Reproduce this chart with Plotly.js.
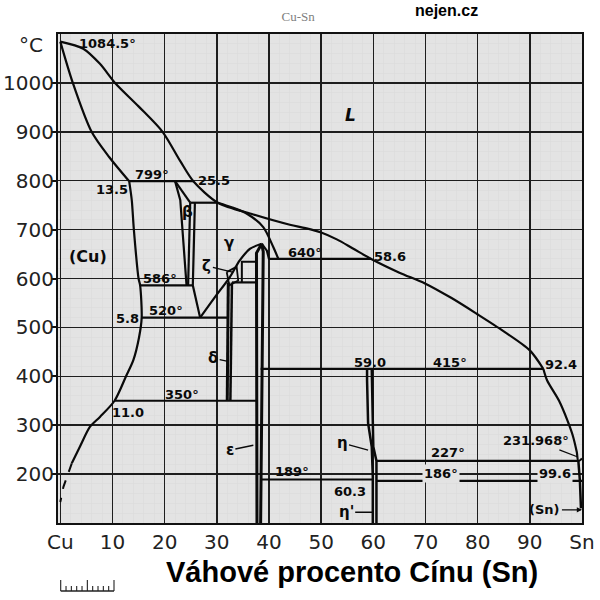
<!DOCTYPE html>
<html><head><meta charset="utf-8">
<script src="https://cdn.plot.ly/plotly-3.0.1.min.js"></script>
<style>html,body{margin:0;padding:0;background:#fff}#chart{width:600px;height:600px}</style>
</head><body><div id="chart"></div>
<script>
// ---------- axes ----------
const xTickVals = [0,10,20,30,40,50,60,70,80,90,100];
const xTickText = ['Cu','10','20','30','40','50','60','70','80','90','Sn'];
const yTickVals = [200,300,400,500,600,700,800,900,1000];

// ---------- phase boundaries (wt% Sn, °C) ----------
const liquidusX = [0, 4.4, 7.6, 10.5, 15, 19.6, 23, 25.5, 30.2, 37, 44, 47, 50, 53, 56, 59.6, 65, 69.9, 75, 79.8, 85, 90, 92.6];
const liquidusT = [1084.5, 1070, 1039, 1000, 952, 900, 840, 799, 755, 731, 710, 703, 694, 680, 662, 640, 612, 590, 560, 528, 492, 453, 415];
const liquidusSnX = [92.6, 93.3, 95.6, 97.2, 98.2, 99.0, 99.3, 100];
const liquidusSnT = [415, 392, 350, 310, 280, 245, 227, 232];
const cuSolidusX = [0, 2.4, 6.0, 9.4, 13.2];
const cuSolidusT = [1084.5, 1000, 900, 848, 799];
const cuSolvusX = [13.2, 13.7, 14.1, 15.0, 15.3, 15.6, 15.1, 14.0, 12.6, 10.4, 7.6, 5.7, 3.8, 2.2];
const cuSolvusT = [799, 760, 700, 600, 586, 520, 480, 433, 400, 350, 317, 297, 257, 222];
const cuSolvusLowX = [2.2, 1.5, 0.6, 0];
const cuSolvusLowT = [222, 202, 174, 143];
const betaLeftX = [22.0, 23.0, 24.2];
const betaLeftT = [799, 760, 586];
const betaSolidusX = [22.0, 24.9];
const betaSolidusT = [799, 755];
const betaRightX = [24.9, 24.5];
const betaRightT = [755, 586];
const gammaLeftX = [25.8, 25.4, 26.8];
const gammaLeftT = [755, 586, 520];
const gammaSolidusX = [30.2, 33, 35.7, 38.9, 40.8, 41.8];
const gammaSolidusT = [755, 745, 733, 705, 665, 640];
const domeX = [26.8, 29.5, 32.5, 34.4, 36.4, 38.6];
const domeT = [520, 560, 603, 637, 661, 671];
const domeRightX = [38.6, 39.6, 40.0];
const domeRightT = [671, 657, 640];
const epsLeftX = [38.6, 37.6, 37.7];
const epsLeftT = [671, 652, 100];
const epsRightX = [38.6, 38.9, 38.4];
const epsRightT = [671, 655, 100];
const deltaLeftX = [32.0, 32.2];
const deltaLeftT = [350, 592];
const deltaRightX = [32.6, 32.9];
const deltaRightT = [350, 592];
const zetaX = [31.9, 33.8, 34.1, 32.4, 31.9];
const zetaT = [613, 624, 596, 586, 613];
const zetaBoxX = [34.8, 34.8, 37.6];
const zetaBoxT = [592, 634, 634];
const etaLeftX = [58.8, 58.8, 59.0, 59.7, 59.9, 59.9];
const etaLeftT = [415, 392, 304, 256, 195, 100];
const etaRightX = [59.7, 60.0, 60.6, 60.6];
const etaRightT = [415, 256, 227, 100];
const snSolvusX = [99.3, 99.6, 99.8];
const snSolvusT = [227, 186, 130];

// isotherms
const isoT    = [799, 755, 640, 592, 586, 520, 415, 350, 227, 189, 186];
const isoFrom = [13.2, 24.9, 39.9, 32.9, 15.3, 15.6, 38.4, 10.4, 60.6, 38.4, 60.6];
const isoTo   = [25.5, 30.2, 59.6, 37.7, 25.4, 32.0, 92.6, 37.7, 99.3, 59.9, 100];

// numeric labels
const labText = ['1084.5°','799°','13.5','25.5','586°','520°','5.8','350°','11.0','640°','58.6','59.0','415°','92.4','189°','60.3','227°'];
const labX    = [9.1, 17.6, 9.9, 29.5, 19.1, 20.3, 12.8, 23.4, 13.0, 46.9, 63.2, 59.4, 74.7, 96.0, 44.4, 55.5, 74.3];
const labT    = [1081, 813, 781, 801, 601, 535, 519, 362, 325, 654, 646, 429, 429, 425, 206, 165, 245];
// labels sitting on a grid line (background cut-out)
const gapText = ['186°','99.6'];
const gapX    = [73.0, 94.8];
const gapT    = [202, 202];
// phase names
const phaseText = ['<i>L</i>','(Cu)','β','γ'];
const phaseX    = [55.7, 5.3, 24.3, 32.3];
const phaseT    = [934, 644, 736, 672];
const phaseSize = [17, 16, 15, 15];
// phase names with leader lines: text position and tip
const leadText = ['ζ','δ','ε','η',"η'",'231.968°','(Sn)'];
const leadX    = [28.1, 29.3, 32.5, 54.0, 54.8, 91.2, 92.9];
const leadT    = [626, 437, 249, 264, 122, 268, 127];
const tipX     = [33.0, 31.9, 37.0, 59.0, 59.9, 99.2, 100];
const tipT     = [613, 431, 259, 249, 122, 235, 127];
const tipHead  = [0, 0, 0, 0, 0, 0, 2];

// ---------- build ----------
const BLACK = '#0a0a0a';
function ln(x, y, w, dash, smooth) {
  const line = {color:BLACK, width:w || 2, dash:dash || 'solid'};
  if (smooth) { line.shape = 'spline'; line.smoothing = 0.8; }
  return {type:'scatter', mode:'lines', x:x, y:y, hoverinfo:'skip', showlegend:false, line:line};
}
const traces = [
  ln(liquidusX, liquidusT, 2.2, null, true),
  ln(liquidusSnX, liquidusSnT, 2.2, null, true),
  ln(cuSolidusX, cuSolidusT, 2.2, null, true),
  ln(cuSolvusX, cuSolvusT, 2.2, null, true),
  ln(cuSolvusLowX, cuSolvusLowT, 2, 'dash'),
  ln(betaLeftX, betaLeftT, 2.2),
  ln(betaSolidusX, betaSolidusT, 2.2),
  ln(betaRightX, betaRightT, 2.2),
  ln(gammaLeftX, gammaLeftT, 2.2),
  ln(gammaSolidusX, gammaSolidusT, 2.2, null, true),
  ln(domeX, domeT, 2.2, null, true),
  ln(domeRightX, domeRightT, 2.2),
  ln(epsLeftX, epsLeftT, 3),
  ln(epsRightX, epsRightT, 3),
  ln(deltaLeftX, deltaLeftT, 3),
  ln(deltaRightX, deltaRightT, 2.5),
  ln(zetaX, zetaT, 1.8),
  ln(zetaBoxX, zetaBoxT, 2),
  ln(etaLeftX, etaLeftT, 2.5),
  ln(etaRightX, etaRightT, 2.5),
  ln(snSolvusX, snSolvusT, 2.5)
];
for (let i = 0; i < isoT.length; i++) {
  traces.push(ln([isoFrom[i], isoTo[i]], [isoT[i], isoT[i]], 2.2));
}

const LABFONT = {family:'DejaVu Sans', size:13, color:BLACK};
const PLOTBG = '#e3e3e3';
const annotations = [];
labText.forEach((t, i) => annotations.push({x:labX[i], y:labT[i], xref:'x', yref:'y', text:'<b>'+t+'</b>',
  showarrow:false, xanchor:'center', yanchor:'middle', font:LABFONT}));
gapText.forEach((t, i) => annotations.push({x:gapX[i], y:gapT[i], xref:'x', yref:'y', text:'<b>'+t+'</b>',
  showarrow:false, xanchor:'center', yanchor:'middle', font:LABFONT, bgcolor:PLOTBG, borderpad:1}));
phaseText.forEach((t, i) => annotations.push({x:phaseX[i], y:phaseT[i], xref:'x', yref:'y', text:'<b>'+t+'</b>',
  showarrow:false, xanchor:'center', yanchor:'middle', font:{family:'DejaVu Sans', size:phaseSize[i], color:BLACK}}));
leadText.forEach((t, i) => annotations.push({x:tipX[i], y:tipT[i], xref:'x', yref:'y',
  ax:leadX[i], ay:leadT[i], axref:'x', ayref:'y', text:'<b>'+t+'</b>', showarrow:true,
  arrowhead:tipHead[i], arrowsize:0.8, arrowwidth:1.3, arrowcolor:BLACK, standoff:0,
  font:{family:'DejaVu Sans', size:(t.length > 3 ? 13 : 15), color:BLACK}}));

// outside texts (paper coordinates of the plot area)
annotations.push({x:-0.052, y:0.977, xref:'paper', yref:'paper', xanchor:'center', yanchor:'middle',
  text:'°C', showarrow:false, font:{family:'DejaVu Sans', size:20, color:'#222'}});
annotations.push({x:0.742, y:1.049, xref:'paper', yref:'paper', xanchor:'center', yanchor:'middle',
  text:'<b>nejen.cz</b>', showarrow:false, font:{family:'Liberation Sans', size:16, color:'#000'}});
annotations.push({x:0.562, y:-0.100, xref:'paper', yref:'paper', xanchor:'center', yanchor:'middle',
  text:'<b>Váhové procento Cínu (Sn)</b>', showarrow:false, font:{family:'Liberation Sans', size:29, color:'#000'}});

// small ruler decoration under the axis (paper coords)
const shapes = [];
const rx0 = (60.7 - 58) / 524, rx1 = (114 - 58) / 524;
const rBase = (523 - 591) / 489, rShort = (523 - 586) / 489, rTall = (523 - 580) / 489;
shapes.push({type:'line', xref:'paper', yref:'paper', x0:rx0, x1:rx1, y0:rBase, y1:rBase, line:{color:'#222', width:1.3}});
for (let k = 0; k <= 10; k++) {
  const xx = rx0 + (rx1 - rx0) * k / 10;
  shapes.push({type:'line', xref:'paper', yref:'paper', x0:xx, x1:xx, y0:rBase,
    y1:(k % 5 === 0 ? rTall : rShort), line:{color:'#222', width:1.1}});
}

const layout = {
  width:600, height:600,
  margin:{l:58, r:18, t:34, b:77, pad:0},
  paper_bgcolor:'#ffffff', plot_bgcolor:PLOTBG,
  title:{text:'Cu-Sn', x:0.497, xanchor:'center', y:0.973, yanchor:'middle',
         font:{family:'Liberation Serif', size:13, color:'#808080'}},
  showlegend:false, hovermode:false,
  xaxis:{range:[-0.44, 100], tickmode:'array', tickvals:xTickVals, ticktext:xTickText,
         ticks:'', ticklabelstandoff:0, tickfont:{family:'DejaVu Sans', size:20, color:'#222'},
         showgrid:true, gridcolor:'#1e1e1e', gridwidth:1.5, zeroline:false,
         showline:true, mirror:true, linecolor:'#111', linewidth:2,
         minor:{tickmode:'linear', tick0:0, dtick:2, showgrid:true, gridcolor:'#d9d9d9', gridwidth:0.5, ticks:''}},
  yaxis:{range:[100, 1100], tickmode:'array', tickvals:yTickVals,
         ticks:'outside', ticklen:4, tickwidth:2, tickcolor:'#111', ticklabelstandoff:-6,
         tickfont:{family:'DejaVu Sans', size:20, color:'#222'},
         showgrid:true, gridcolor:'#1e1e1e', gridwidth:1.5, zeroline:false,
         showline:true, mirror:true, linecolor:'#111', linewidth:2,
         minor:{tickmode:'linear', tick0:100, dtick:20, showgrid:true, gridcolor:'#d9d9d9', gridwidth:0.5, ticks:''}},
  annotations:annotations,
  shapes:shapes
};
Plotly.newPlot('chart', traces, layout, {displayModeBar:false, staticPlot:true});
</script></body></html>
